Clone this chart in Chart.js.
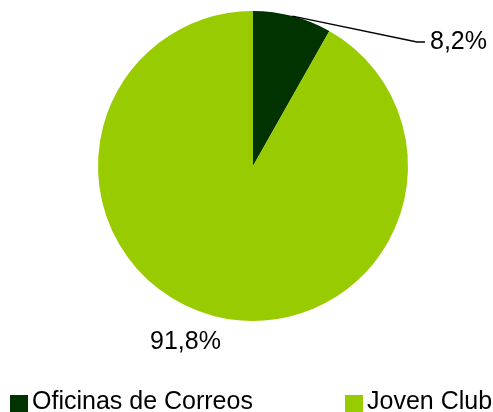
<!DOCTYPE html>
<html>
<head>
<meta charset="utf-8">
<script src="https://cdn.jsdelivr.net/npm/chart.js@4/dist/chart.umd.min.js"></script>
<style>
html,body{margin:0;padding:0;background:#fff;}
#wrap{width:493px;height:412px;position:relative;}
</style>
</head>
<body>
<div id="wrap"><canvas id="c" width="493" height="412"></canvas></div>
<script>
const categories = ["Oficinas de Correos", "Joven Club"];
const values = [8.2, 91.8];
const valueLabels = ["8,2%", "91,8%"];
const colors = ["#003300", "#99CC00"];

const FONT = '25px "Liberation Sans", Arial, sans-serif';

const labelPlugin = {
  id: 'labelPlugin',
  afterDraw(chart) {
    const ctx = chart.ctx;
    const arcs = chart.getDatasetMeta(0).data;
    const a0 = arcs[0];
    const cx = a0.x, cy = a0.y, r = a0.outerRadius;
    ctx.save();
    ctx.font = FONT;
    ctx.fillStyle = '#000';
    ctx.textBaseline = 'alphabetic';
    ctx.textAlign = 'left';
    // leader line for first slice
    const mid = (a0.startAngle + a0.endAngle) / 2;
    const sx = cx + r * Math.cos(mid), sy = cy + r * Math.sin(mid);
    ctx.strokeStyle = '#000';
    ctx.lineWidth = 1.5;
    ctx.beginPath();
    ctx.moveTo(sx, sy);
    ctx.lineTo(cx + 164, cy - 124);
    ctx.lineTo(cx + 172, cy - 124);
    ctx.stroke();
    ctx.fillText(valueLabels[0], cx + 177, cy - 117);
    ctx.fillText(valueLabels[1], cx - 103, cy + 183);
    // legend
    const ly = 409;
    const items = [{x: 10, tx: 32}, {x: 345, tx: 367}];
    categories.forEach((c, i) => {
      ctx.fillStyle = colors[i];
      ctx.fillRect(items[i].x, 395, 18, 17);
      ctx.fillStyle = '#000';
      ctx.fillText(c, items[i].tx, ly);
    });
    ctx.restore();
  }
};

new Chart(document.getElementById('c'), {
  type: 'pie',
  data: {
    labels: categories,
    datasets: [{
      data: values,
      backgroundColor: colors,
      borderWidth: 0,
      hoverOffset: 0
    }]
  },
  options: {
    responsive: false,
    animation: false,
    events: [],
    layout: { padding: { top: 11, bottom: 91, left: 98, right: 85 } },
    plugins: {
      legend: { display: false },
      tooltip: { enabled: false }
    }
  },
  plugins: [labelPlugin]
});
</script>
</body>
</html>
